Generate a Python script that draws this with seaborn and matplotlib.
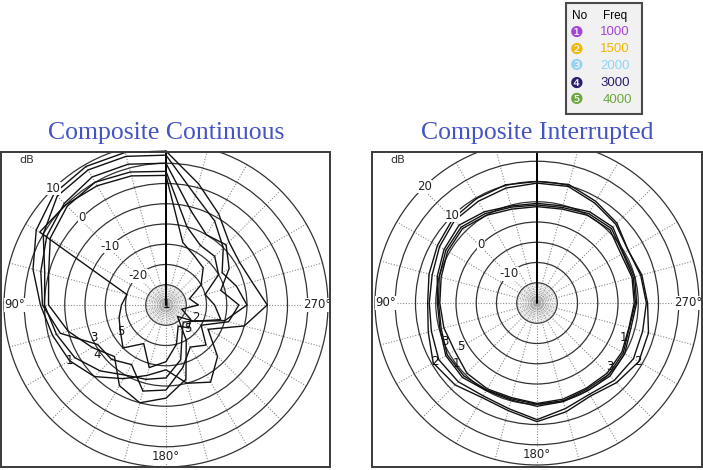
import numpy as np
import pandas as pd
import seaborn as sns
import matplotlib.pyplot as plt
from matplotlib.patches import Rectangle

# angles of the measured points (deg, counter-clockwise from the top)
angles = np.arange(0, 360, 15)

# Composite Continuous (dB)
cont_1 = [8, 9, 9.5, 9, 7, 4, 1, -1, -2.5, -5, -9, -12, -14, -10, -8, -12, -18, -10, -5, -8, -9, -8, -4, 1]
cont_2 = [7, 8, 8.5, 8, 5, 1, 0, -2, -4, -7, -10, -11, -12, -16, -22, -24, -22, -15, -10, -12, -14, -10, -6, -2]
cont_3 = [5, 6, 6.5, 5.5, 4, 2, 0.5, -3, -10.5, -11, -13, -8, -9, -14, -18, -16, -20, -14, -12, -16, -12, -9, -10, -6]
cont_4 = [3, 4, 5, 4.5, 3, 0, -1, -5, -9, -12, -7, -5, -7, -11, -20, -26, -22, -16, -18, -20, -15, -13, -13, -10]
cont_5 = [2, 3, 4, 5, 6, -20, -19, -18, -17, -15, -19, -14, -16, -20, -24, -22, -23, -26, -22, -24, -20, -17, -16, -14]

# Composite Interrupted (dB)
int_1 = [4.6, 4.8, 6.0, 7.2, 6.5, 5.5, 4.6, 4.8, 6.0, 6.0, 5.0, 4.8, 5.5, 5.2, 5.0, 5.5, 5.0, 4.0, 4.6, 5.0, 4.7, 6.5, 6.0, 4.8]
int_2 = [10.0, 10.2, 9.8, 9.4, 8.4, 7.6, 7.0, 7.8, 9.6, 8.6, 7.0, 7.5, 9.3, 7.8, 6.5, 7.8, 9.0, 8.5, 7.3, 6.8, 6.0, 7.9, 9.0, 10.3]
int_3 = [4.2, 4.5, 5.5, 6.5, 6.0, 5.0, 4.3, 4.5, 5.6, 5.5, 4.8, 4.5, 5.0, 5.0, 4.6, 5.0, 4.6, 3.6, 4.3, 4.6, 4.5, 6.0, 5.5, 4.4]
int_4 = [9.6, 9.4, 9.0, 8.8, 7.8, 6.8, 6.6, 7.0, 8.0, 7.5, 6.5, 7.0, 8.8, 7.0, 6.0, 7.0, 7.5, 7.0, 7.0, 6.5, 6.0, 7.5, 8.5, 9.8]
int_5 = [3.8, 4.0, 5.0, 6.0, 5.5, 4.5, 4.0, 3.8, 3.5, 4.5, 4.5, 4.2, 4.8, 4.6, 4.3, 4.5, 4.2, 3.5, 4.0, 4.3, 4.0, 5.5, 5.0, 4.0]

numeros = ['❶', '❷', '❸', '❹', '❺']
freqs = ['1000', '1500', '2000', '3000', '4000']
cores = ['#a545d8', '#f2b705', '#92d3f2', '#2b1d6c', '#6aa83c']

sns.set_style('white')
plt.rcParams['font.family'] = ['DejaVu Sans']

W, H = 703, 470
fig = plt.figure(figsize=(W / 100, H / 100), dpi=100)


def tabela(series):
    linhas = []
    for i, vals in enumerate(series):
        a = list(angles) + [360]
        v = list(vals) + [vals[0]]
        for ang, db in zip(a, v):
            linhas.append({'serie': i + 1, 'theta': np.deg2rad(ang), 'db': db})
    return pd.DataFrame(linhas)


def painel(cx, cy, rmin, rmax, series, rotulos_anel, rotulos, caixa, titulo, centro=None):
    R = 162
    x0, y0, x1, y1 = caixa
    rect = Rectangle((x0 / W, 1 - y1 / H), (x1 - x0) / W, (y1 - y0) / H,
                     transform=fig.transFigure, fill=False, ec='#3a3a3a', lw=1.4, zorder=5)
    fig.add_artist(rect)

    ax = fig.add_axes([(cx - R) / W, (H - cy - R) / H, 2 * R / W, 2 * R / H], projection='polar')
    ax.set_theta_zero_location('N')
    ax.set_theta_direction(1)
    ax.set_ylim(rmin, rmax)
    ax.set_facecolor('none')

    ax.set_xticks(np.deg2rad(np.arange(0, 360, 15)))
    ax.set_xticklabels([])
    ax.set_yticks(np.arange(rmin + 5, rmax, 5))
    ax.set_yticklabels([])
    ax.xaxis.grid(True, color='#8a8a8a', linestyle=(0, (1, 1.5)), lw=0.8)
    ax.yaxis.grid(True, color='#333333', linestyle='-', lw=0.9)
    ax.spines['polar'].set_color('#333333')
    ax.spines['polar'].set_linewidth(0.9)
    ax.spines['polar'].set_clip_path(rect)
    for gl in ax.xaxis.get_gridlines():
        gl.set_clip_path(rect)

    # raios densos no circulo interno e eixo de 0 grau
    ax.vlines(np.deg2rad(np.arange(0, 360, 5)), rmin, rmin + 5, colors='#a8a8a8',
              linestyles=(0, (1, 1)), lw=0.6)
    ax.plot([0, 0], [rmin, rmax], color='black', lw=1.4, clip_path=rect)

    df = tabela(series)
    sns.lineplot(data=df, x='theta', y='db', units='serie', estimator=None, sort=False,
                 color='#111111', lw=1.0, ax=ax, legend=False)
    ax.set_xlabel('')
    ax.set_ylabel('')

    for v in rotulos_anel:
        ax.text(np.deg2rad(44), v, str(v), ha='center', va='center', fontsize=8.5, color='#222222',
                bbox=dict(fc='white', ec='none', pad=0.2))

    r_lab = rmin + (rmax - rmin) * 151 / 162
    for ang, txt in [(90, '90°'), (270, '270°'), (180, '180°')]:
        ax.text(np.deg2rad(ang), r_lab, txt, ha='center', va='center', fontsize=8.5, color='#222222',
                bbox=dict(fc='white', ec='none', pad=0.2))

    for idx, ang, dr in rotulos:
        k = int(round(ang / 15.0)) % 24
        ax.text(np.deg2rad(ang), series[idx][k] + dr, str(idx + 1), ha='center', va='center',
                fontsize=8.5, color='#111111')
    if centro is not None:
        ax.text(0, rmin, centro, ha='center', va='center', fontsize=8.5, color='#111111')

    fig.text((x0 + 18) / W, 1 - 160 / H, 'dB', fontsize=8, color='#333333', ha='left', va='center')
    fig.text(cx / W, 1 - 133 / H, titulo, fontsize=18.5, color='#4454c4', ha='center', va='center',
             family='Liberation Serif')
    return ax


painel(166, 305, -30, 10, [cont_1, cont_2, cont_3, cont_4, cont_5],
       [-20, -10, 0, 10],
       [(0, 120, 0), (3, 126, 0), (2, 114, 0), (4, 120, 0), (1, 247, 0), (4, 223, 0)],
       (1, 152, 330, 467), 'Composite Continuous', centro='1')

painel(537, 303, -20, 20, [int_1, int_2, int_3, int_4, int_5],
       [-10, 0, 10, 20],
       [(1, 120, -0.5), (0, 127, -1), (2, 113, -1), (4, 120, -1.8), (2, 229, -1), (0, 248, -1), (1, 240, -0.3)],
       (372, 152, 702, 467), 'Composite Interrupted')

# legenda
fig.add_artist(Rectangle((566 / W, 1 - 114 / H), 76 / W, 111 / H, transform=fig.transFigure,
                         fc='#f1f1f1', ec='#4a4a4a', lw=1.5))
fig.text(572 / W, 1 - 16 / H, 'No', fontsize=8.5, color='black', ha='left', va='center',
         family='Liberation Sans')
fig.text(603 / W, 1 - 16 / H, 'Freq', fontsize=8.5, color='black', ha='left', va='center',
         family='Liberation Sans')
for i in range(5):
    y = 32 + i * 17
    fig.text(577 / W, 1 - y / H, numeros[i], fontsize=11, color=cores[i], ha='center', va='center')
    fig.text((615 + (2 if i == 4 else 0)) / W, 1 - y / H, freqs[i], fontsize=9.5, color=cores[i],
             ha='center', va='center', family='Liberation Sans')

fig.savefig('out.png', dpi=100)
